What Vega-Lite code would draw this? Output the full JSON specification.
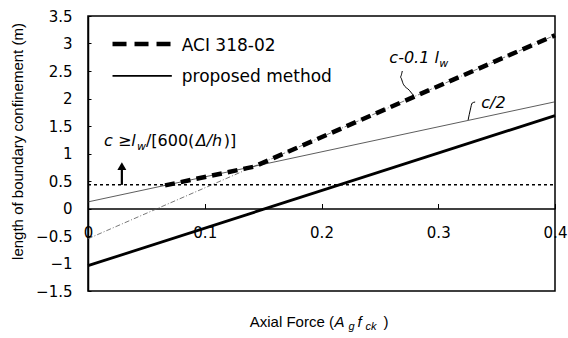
{
  "$schema": "https://vega.github.io/schema/vega-lite/v6.json",
  "width": 467,
  "height": 275,
  "autosize": "none",
  "padding": {"left": 88, "top": 16, "right": 13, "bottom": 47},
  "background": "white",
  "config": {
    "view": {"stroke": "black", "strokeWidth": 1.5},
    "font": "Liberation Sans",
    "axis": {"labelFont": "DejaVu Sans", "titleFont": "Liberation Sans", "labelColor": "black", "titleColor": "black", "grid": false}
  },
  "datasets": {
    "c01": [{"x": 0, "y": -0.55}, {"x": 0.4, "y": 3.15}],
    "c2": [{"x": 0, "y": 0.12}, {"x": 0.4, "y": 1.94}],
    "limit": [{"x": 0, "y": 0.43}, {"x": 0.4, "y": 0.43}],
    "aci": [{"x": 0.066, "y": 0.42}, {"x": 0.142, "y": 0.76}, {"x": 0.4, "y": 3.15}],
    "proposed": [{"x": 0, "y": -1.04}, {"x": 0.4, "y": 1.69}],
    "legDash": [{"x": 0.021, "y": 2.99}, {"x": 0.0718, "y": 2.99}],
    "legSolid": [{"x": 0.021, "y": 2.41}, {"x": 0.0718, "y": 2.41}],
    "leaders": [
      {"g": "a", "i": 0, "x": 0.2692, "y": 2.5},
      {"g": "a", "i": 1, "x": 0.2675, "y": 2.39},
      {"g": "a", "i": 2, "x": 0.2701, "y": 2.26},
      {"g": "a", "i": 3, "x": 0.2752, "y": 2.15},
      {"g": "a", "i": 4, "x": 0.2786, "y": 2.06},
      {"g": "b", "i": 0, "x": 0.3316, "y": 1.936},
      {"g": "b", "i": 1, "x": 0.3291, "y": 1.918},
      {"g": "b", "i": 2, "x": 0.3274, "y": 1.79},
      {"g": "b", "i": 3, "x": 0.3256, "y": 1.61}
    ],
    "arrow": [{"x": 0.029, "y": 0.43, "y2": 0.72}],
    "arrowHead": [{"x": 0.029, "y": 0.77}],
    "legText": [
      {"x": 0.0803, "y": 2.96, "t": "ACI 318-02"},
      {"x": 0.0803, "y": 2.39, "t": "proposed method"}
    ],
    "axisTitleReg": [
      {"x": 0.1385, "y": -2.155, "t": "Axial Force ("},
      {"x": 0.2530, "y": -2.155, "t": ")"}
    ],
    "axisTitleItal": [
      {"x": 0.2111, "y": -2.155, "t": "A"},
      {"x": 0.2308, "y": -2.155, "t": "f"}
    ],
    "axisTitleSub": [
      {"x": 0.2231, "y": -2.21, "t": "g"},
      {"x": 0.2376, "y": -2.21, "t": "ck"}
    ],
    "noteReg": [
      {"x": 0.0496, "y": 1.136, "t": "/[600("},
      {"x": 0.1162, "y": 1.136, "t": " )]"}
    ],
    "noteItal": [
      {"x": 0.0137, "y": 1.136, "t": "c ≥l"},
      {"x": 0.0923, "y": 1.136, "t": "Δ/h"},
      {"x": 0.2581, "y": 2.645, "t": "c-0.1 l"},
      {"x": 0.3368, "y": 1.827, "t": "c/2"}
    ],
    "noteSub": [
      {"x": 0.0419, "y": 1.064, "t": "w"},
      {"x": 0.3009, "y": 2.573, "t": "w"}
    ]
  },
  "layer": [
    {
      "data": {"name": "c01"},
      "mark": {"type": "line", "color": "#555555", "strokeWidth": 0.8, "strokeDash": [5, 2, 1, 2]},
      "encoding": {
        "x": {"field": "x", "type": "quantitative", "scale": {"domain": [0, 0.4], "nice": false, "zero": false},
          "axis": {"values": [0, 0.1, 0.2, 0.3, 0.4], "format": ".1~f", "title": null, "offset": -82.5, "domainColor": "black", "domainWidth": 1.5, "tickColor": "black", "tickSize": -5, "tickWidth": 1, "labelFontSize": 15, "labelPadding": 22, "labelFlush": false, "labelOverlap": false}},
        "y": {"field": "y", "type": "quantitative", "scale": {"domain": [-1.5, 3.5], "nice": false, "zero": false},
          "axis": {"tickCount": 10, "format": ".1~f", "title": "length of boundary confinement (m)", "titleFontSize": 15, "titleFontWeight": "normal", "titleX": -71, "titleY": 125, "titleAngle": -90, "titleBaseline": "middle", "titleAlign": "center", "domainColor": "black", "domainWidth": 1.5, "tickColor": "black", "tickSize": -3, "labelFontSize": 15, "labelPadding": 19, "labelOverlap": false, "labelFlush": false, "labelBound": false}}
      }
    },
    {
      "data": {"name": "c2"},
      "mark": {"type": "line", "color": "#333333", "strokeWidth": 0.8},
      "encoding": {"x": {"field": "x", "type": "quantitative"}, "y": {"field": "y", "type": "quantitative"}}
    },
    {
      "data": {"name": "limit"},
      "mark": {"type": "line", "color": "black", "strokeWidth": 1.5, "strokeDash": [3, 3]},
      "encoding": {"x": {"field": "x", "type": "quantitative"}, "y": {"field": "y", "type": "quantitative"}}
    },
    {
      "data": {"name": "aci"},
      "mark": {"type": "line", "color": "black", "strokeWidth": 4.5, "strokeDash": [10, 6]},
      "encoding": {"x": {"field": "x", "type": "quantitative"}, "y": {"field": "y", "type": "quantitative"}}
    },
    {
      "data": {"name": "proposed"},
      "mark": {"type": "line", "color": "black", "strokeWidth": 2.8},
      "encoding": {"x": {"field": "x", "type": "quantitative"}, "y": {"field": "y", "type": "quantitative"}}
    },
    {
      "data": {"name": "legDash"},
      "mark": {"type": "line", "color": "black", "strokeWidth": 4.5, "strokeDash": [14, 8]},
      "encoding": {"x": {"field": "x", "type": "quantitative"}, "y": {"field": "y", "type": "quantitative"}}
    },
    {
      "data": {"name": "legSolid"},
      "mark": {"type": "line", "color": "black", "strokeWidth": 1.8},
      "encoding": {"x": {"field": "x", "type": "quantitative"}, "y": {"field": "y", "type": "quantitative"}}
    },
    {
      "data": {"name": "leaders"},
      "mark": {"type": "line", "color": "black", "strokeWidth": 1, "interpolate": "monotone"},
      "encoding": {"x": {"field": "x", "type": "quantitative"}, "y": {"field": "y", "type": "quantitative"}, "detail": {"field": "g"}, "order": {"field": "i"}}
    },
    {
      "data": {"name": "arrow"},
      "mark": {"type": "rule", "color": "black", "strokeWidth": 2.2},
      "encoding": {"x": {"field": "x", "type": "quantitative"}, "y": {"field": "y", "type": "quantitative"}, "y2": {"field": "y2"}}
    },
    {
      "data": {"name": "arrowHead"},
      "mark": {"type": "point", "shape": "triangle-up", "filled": true, "color": "black", "size": 80, "opacity": 1},
      "encoding": {"x": {"field": "x", "type": "quantitative"}, "y": {"field": "y", "type": "quantitative"}}
    },
    {
      "data": {"name": "legText"},
      "mark": {"type": "text", "align": "left", "baseline": "middle", "fontSize": 17, "font": "DejaVu Sans", "color": "black"},
      "encoding": {"x": {"field": "x", "type": "quantitative"}, "y": {"field": "y", "type": "quantitative"}, "text": {"field": "t"}}
    },
    {
      "data": {"name": "axisTitleReg"},
      "mark": {"type": "text", "align": "left", "baseline": "alphabetic", "fontSize": 15, "font": "Liberation Sans", "color": "black"},
      "encoding": {"x": {"field": "x", "type": "quantitative"}, "y": {"field": "y", "type": "quantitative"}, "text": {"field": "t"}}
    },
    {
      "data": {"name": "axisTitleItal"},
      "mark": {"type": "text", "align": "left", "baseline": "alphabetic", "fontSize": 15, "fontStyle": "italic", "font": "Liberation Sans", "color": "black"},
      "encoding": {"x": {"field": "x", "type": "quantitative"}, "y": {"field": "y", "type": "quantitative"}, "text": {"field": "t"}}
    },
    {
      "data": {"name": "axisTitleSub"},
      "mark": {"type": "text", "align": "left", "baseline": "alphabetic", "fontSize": 11, "fontStyle": "italic", "font": "Liberation Sans", "color": "black"},
      "encoding": {"x": {"field": "x", "type": "quantitative"}, "y": {"field": "y", "type": "quantitative"}, "text": {"field": "t"}}
    },
    {
      "data": {"name": "noteReg"},
      "mark": {"type": "text", "align": "left", "baseline": "alphabetic", "fontSize": 16, "font": "DejaVu Sans", "color": "black"},
      "encoding": {"x": {"field": "x", "type": "quantitative"}, "y": {"field": "y", "type": "quantitative"}, "text": {"field": "t"}}
    },
    {
      "data": {"name": "noteItal"},
      "mark": {"type": "text", "align": "left", "baseline": "alphabetic", "fontSize": 16, "fontStyle": "italic", "font": "DejaVu Sans", "color": "black"},
      "encoding": {"x": {"field": "x", "type": "quantitative"}, "y": {"field": "y", "type": "quantitative"}, "text": {"field": "t"}}
    },
    {
      "data": {"name": "noteSub"},
      "mark": {"type": "text", "align": "left", "baseline": "alphabetic", "fontSize": 11, "fontStyle": "italic", "font": "DejaVu Sans", "color": "black"},
      "encoding": {"x": {"field": "x", "type": "quantitative"}, "y": {"field": "y", "type": "quantitative"}, "text": {"field": "t"}}
    }
  ]
}
